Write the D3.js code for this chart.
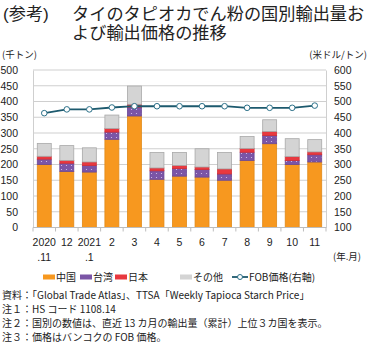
<!DOCTYPE html>
<html>
<head>
<meta charset="utf-8">
<script src="https://cdn.jsdelivr.net/npm/d3@7"></script>
<style>
  html, body { margin: 0; padding: 0; background: #fff; }
  svg { display: block; }
  text { font-family: "Liberation Sans", Arial, "Noto Sans CJK JP", sans-serif; fill: #222; }
  .jp { font-family: "Noto Sans CJK JP", "Noto Sans", sans-serif; }
  .ttl { font-family: "Liberation Sans", "Noto Sans CJK JP", sans-serif; }
</style>
</head>
<body>
<svg id="chart" width="370" height="345"></svg>
<script>
// Monthly export volume of Thai tapioca starch by destination (thousand tonnes)
const monthsTop = ["2020", "12", "2021", "2", "3", "4", "5", "6", "7", "8", "9", "10", "11"];
const monthsBottom = [".11", "", ".1", "", "", "", "", "", "", "", "", "", ""];
const china  = [200, 178, 176, 280, 354, 153, 163, 160, 150, 213, 266, 200, 208];
const taiwan = [17, 26, 21, 23, 28, 27, 24, 24, 20, 26, 26, 13, 23];
const japan  = [9, 9, 11, 11, 9, 9, 10, 8, 16, 12, 13, 12, 9];
const other  = [41, 47, 45, 43, 58, 49, 41, 58, 52, 38, 37, 57, 39];
// Bangkok FOB price (USD/tonne, right axis)
const fob = [463, 475, 475, 481, 485, 485, 485, 485, 485, 480, 480, 480, 487];

const leftTicks = [0, 50, 100, 150, 200, 250, 300, 350, 400, 450, 500];
const rightTicks = [100, 150, 200, 250, 300, 350, 400, 450, 500, 550, 600];

const seriesKeys = ["china", "taiwan", "japan", "other"];
const seriesNames = { china: "中国", taiwan: "台湾", japan: "日本", other: "その他" };
const colors = { china: "#F7981F", taiwan: "#7B55A6", japan: "#E8383F", other: "#D4D4D4" };
const strokes = { china: "#E08A1A", taiwan: "#6A4796", japan: "#D23036", other: "#A9A9A9" };

const svg = d3.select("#chart");

// Title
svg.append("text").attr("class", "ttl").attr("x", 3).attr("y", 19.8)
  .attr("font-size", 17.2).attr("fill", "#333").text("(参考)");
svg.append("text").attr("class", "ttl").attr("x", 72).attr("y", 19.8)
  .attr("font-size", 17.2).attr("fill", "#333").text("タイのタピオカでん粉の国別輸出量お");
svg.append("text").attr("class", "ttl").attr("x", 72).attr("y", 39.2)
  .attr("font-size", 17.2).attr("fill", "#333").text("よび輸出価格の推移");

// dotted fill for the Taiwan segments
const defs = svg.append("defs");
const pat = defs.append("pattern")
  .attr("id", "dots").attr("patternUnits", "userSpaceOnUse")
  .attr("width", 5).attr("height", 4);
pat.append("rect").attr("width", 5).attr("height", 4).attr("fill", colors.taiwan);
pat.append("circle").attr("cx", 1.5).attr("cy", 1.5).attr("r", 0.6).attr("fill", "#d8c8ee");

const plot = { left: 33, right: 326, top: 70, bottom: 227.5 };

const x = d3.scaleBand().domain(monthsTop.map((d, i) => i))
  .range([plot.left, plot.right]).paddingInner(0.38).paddingOuter(0.19);
const yL = d3.scaleLinear().domain([0, 500]).range([plot.bottom, plot.top]);
const yR = d3.scaleLinear().domain([100, 600]).range([plot.bottom, plot.top]);

// Unit labels
svg.append("text").attr("class", "jp").attr("x", 2).attr("y", 58)
  .attr("font-size", 9.5).text("(千トン)");
svg.append("text").attr("class", "jp").attr("x", 367).attr("y", 58)
  .attr("text-anchor", "end").attr("font-size", 9.5).text("(米ドル/トン)");

// Gridlines
svg.append("g").selectAll("line").data(leftTicks.filter(d => d > 0)).join("line")
  .attr("x1", plot.left).attr("x2", plot.right)
  .attr("y1", d => yL(d)).attr("y2", d => yL(d))
  .attr("stroke", "#cfcfcf").attr("stroke-width", 1);

// Left axis
const gL = svg.append("g").attr("transform", `translate(${plot.left},0)`)
  .call(d3.axisLeft(yL).tickValues(leftTicks).tickSize(0).tickPadding(15));
gL.select(".domain").attr("stroke", "#cfcfcf");
gL.selectAll("text").attr("font-size", 10.5).attr("fill", "#222")
  .style("font-family", "'Liberation Sans', Arial, sans-serif");

// Right axis
const gR = svg.append("g").attr("transform", `translate(${plot.right},0)`)
  .call(d3.axisRight(yR).tickValues(rightTicks).tickSize(0).tickPadding(8));
gR.select(".domain").attr("stroke", "#cfcfcf");
gR.selectAll("text").attr("font-size", 10.5).attr("fill", "#222")
  .style("font-family", "'Liberation Sans', Arial, sans-serif");

// Stacked bars
const rows = monthsTop.map((m, i) => ({
  i, china: china[i], taiwan: taiwan[i], japan: japan[i], other: other[i]
}));
const stacked = d3.stack().keys(seriesKeys)(rows);

svg.append("g").selectAll("g").data(stacked).join("g")
  .attr("fill", d => d.key === "taiwan" ? "url(#dots)" : colors[d.key])
  .attr("stroke", d => strokes[d.key]).attr("stroke-width", 0.8)
  .selectAll("rect").data(d => d).join("rect")
  .attr("x", d => x(d.data.i))
  .attr("width", x.bandwidth())
  .attr("y", d => yL(d[1]))
  .attr("height", d => yL(d[0]) - yL(d[1]));

// X axis baseline and ticks between categories
svg.append("line").attr("x1", plot.left).attr("x2", plot.right)
  .attr("y1", plot.bottom).attr("y2", plot.bottom).attr("stroke", "#bdbdbd");
svg.append("g").selectAll("line").data(d3.range(monthsTop.length + 1)).join("line")
  .attr("x1", d => plot.left + d * (plot.right - plot.left) / monthsTop.length)
  .attr("x2", d => plot.left + d * (plot.right - plot.left) / monthsTop.length)
  .attr("y1", plot.bottom).attr("y2", plot.bottom + 4)
  .attr("stroke", "#bdbdbd");

// Category labels
svg.append("g").selectAll("text").data(monthsTop).join("text")
  .attr("x", (d, i) => x(i) + x.bandwidth() / 2).attr("y", 246)
  .attr("text-anchor", "middle").attr("font-size", 10.5).text(d => d);
svg.append("g").selectAll("text").data(monthsBottom).join("text")
  .attr("x", (d, i) => x(i) + x.bandwidth() / 2).attr("y", 261)
  .attr("text-anchor", "middle").attr("font-size", 10.5).text(d => d);
svg.append("text").attr("class", "jp").attr("x", 361).attr("y", 260)
  .attr("text-anchor", "end").attr("font-size", 9.5).text("(年.月)");

// FOB price line
const line = d3.line().x((d, i) => x(i) + x.bandwidth() / 2).y(d => yR(d));
svg.append("path").datum(fob).attr("d", line)
  .attr("fill", "none").attr("stroke", "#1D5A6E").attr("stroke-width", 1.8);
svg.append("g").selectAll("circle").data(fob).join("circle")
  .attr("cx", (d, i) => x(i) + x.bandwidth() / 2).attr("cy", d => yR(d))
  .attr("r", 2.8).attr("fill", "#fff").attr("stroke", "#2B7088").attr("stroke-width", 1);

// Legend
const legend = svg.append("g").attr("transform", "translate(0,277)");
const legendPos = [
  { key: "china", x: 43 }, { key: "taiwan", x: 80 },
  { key: "japan", x: 115 }, { key: "other", x: 180 }
];
legendPos.forEach(p => {
  legend.append("rect").attr("x", p.x).attr("y", -2.5).attr("width", 12).attr("height", 5)
    .attr("fill", colors[p.key]);
  legend.append("text").attr("class", "jp").attr("x", p.x + 13).attr("y", 3.5)
    .attr("font-size", 10).text(seriesNames[p.key]);
});
legend.append("line").attr("x1", 232).attr("x2", 248).attr("y1", 0).attr("y2", 0)
  .attr("stroke", "#1D5A6E").attr("stroke-width", 1.8);
legend.append("circle").attr("cx", 240).attr("cy", 0).attr("r", 2.5)
  .attr("fill", "#fff").attr("stroke", "#2B7088");
legend.append("text").attr("class", "jp").attr("x", 249).attr("y", 3.5)
  .attr("font-size", 10).text("FOB価格(右軸)");

// Notes
const notes = [
  "資料：「Global Trade Atlas」、TTSA「Weekly Tapioca Starch Price」",
  "注１：HS コード 1108.14",
  "注２：国別の数値は、直近 13 カ月の輸出量（累計）上位３カ国を表示。",
  "注３：価格はバンコクの FOB 価格。"
];
svg.append("g").selectAll("text").data(notes).join("text")
  .attr("class", "jp").attr("x", 2).attr("y", (d, i) => 299 + i * 14)
  .attr("font-size", 10).text(d => d);
</script>
</body>
</html>
